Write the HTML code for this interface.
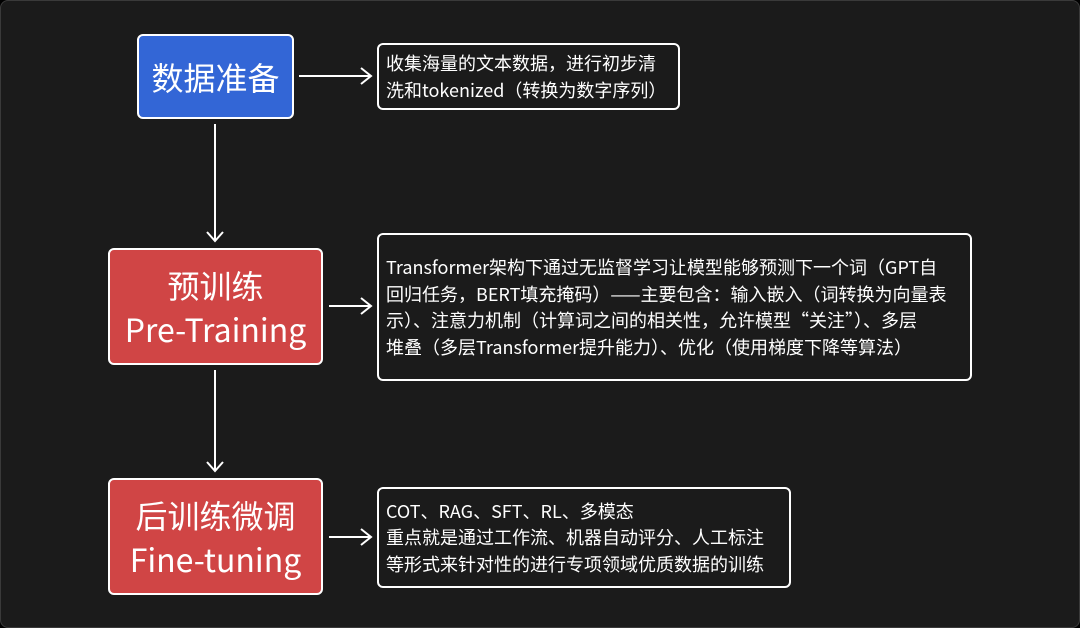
<!DOCTYPE html>
<html><head><meta charset="utf-8"><style>
html,body{margin:0;padding:0;}
body{width:1080px;height:628px;background:#000;position:relative;overflow:hidden;font-family:"Liberation Sans","Noto Sans CJK SC",sans-serif;}
.bg{position:absolute;left:0;top:0;width:1078px;height:626px;background:#1b1b1b;border:1px solid #3a3a3a;border-radius:8px;}
.n{position:absolute;box-sizing:border-box;border:2px solid #fff;border-radius:6px;color:#fff;display:flex;align-items:center;justify-content:center;text-align:center;font-family:"Noto Sans CJK SC",sans-serif;font-size:32px;line-height:44px;}
.d{position:absolute;box-sizing:border-box;border:2px solid #fff;border-radius:6px;color:#fff;font-family:"Noto Sans CJK SC",sans-serif;font-size:18px;line-height:26.5px;white-space:nowrap;padding-left:7px;display:flex;flex-direction:column;justify-content:center;}
svg{position:absolute;left:0;top:0;}
</style></head><body>
<div class="bg"></div>
<div class="n" style="left:137px;top:34px;width:157px;height:85px;background:#3366d6;">数据准备</div>
<div class="n" style="left:108px;top:248px;width:215px;height:117px;background:#d04545;">预训练<br>Pre-Training</div>
<div class="n" style="left:108px;top:478px;width:215px;height:117px;background:#d04545;">后训练微调<br>Fine-tuning</div>
<div class="d" style="left:377px;top:43px;width:303px;height:67px;"><div>收集海量的文本数据，进行初步清</div><div>洗和tokenized（转换为数字序列）</div></div>
<div class="d" style="left:377px;top:233px;width:595px;height:148px;"><div>Transformer架构下通过无监督学习让模型能够预测下一个词（GPT自</div><div>回归任务，BERT填充掩码）——主要包含：输入嵌入（词转换为向量表</div><div>示）、注意力机制（计算词之间的相关性，允许模型“关注”）、多层</div><div>堆叠（多层Transformer提升能力）、优化（使用梯度下降等算法）</div></div>
<div class="d" style="left:377px;top:487px;width:414px;height:101px;"><div>COT、RAG、SFT、RL、多模态</div><div>重点就是通过工作流、机器自动评分、人工标注</div><div>等形式来针对性的进行专项领域优质数据的训练</div></div>
<svg width="1080" height="628" fill="none" stroke="#fff" stroke-width="2">
<path d="M299 76H371M361 68L371 76L361 84"/>
<path d="M329 306H371M361 298L371 306L361 314"/>
<path d="M329 537H371M361 529L371 537L361 545"/>
<path d="M215 124V241M207 232L215 241L223 232"/>
<path d="M215 370V471M207 462L215 471L223 462"/>
</svg>
</body></html>
